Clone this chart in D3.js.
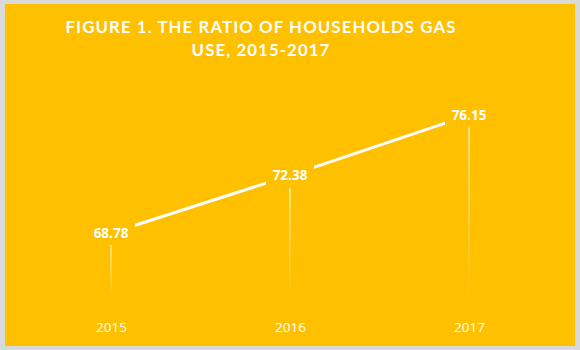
<!DOCTYPE html>
<html><head><meta charset="utf-8">
<script src="https://cdn.jsdelivr.net/npm/d3@7"></script>
<style>html,body{margin:0;padding:0;background:#fff;}</style>
</head><body>
<svg id="c" width="580" height="350"></svg>
<script>
const years = ["2015", "2016", "2017"];
const values = [68.78, 72.38, 76.15];
const titleLines = ["FIGURE 1. THE RATIO OF HOUSEHOLDS GAS", "USE, 2015-2017"];

const svg = d3.select("#c");
svg.append("rect").attr("x",0).attr("y",0).attr("width",580).attr("height",350).attr("fill","#D9D9D9");
svg.append("rect").attr("x",5).attr("y",4).attr("width",570).attr("height",342).attr("fill","#FFC000");

const defs = svg.append("defs");
const g = defs.append("linearGradient").attr("id","fade").attr("x1",0).attr("y1",0).attr("x2",0).attr("y2",1);
g.append("stop").attr("offset","0%").attr("stop-color","#fff").attr("stop-opacity",1);
g.append("stop").attr("offset","100%").attr("stop-color","#fff").attr("stop-opacity",0);

const x = d3.scalePoint().domain(years).range([111, 469]);
const y = d3.scaleLinear().domain([65, 80]).range([293.5, 53.5]);

const font = "'Open Sans', 'DejaVu Sans', sans-serif";
const titleFont = "Lato, 'Open Sans', sans-serif";

const tt = svg.append("g").selectAll("text").data(titleLines).join("text")
  .attr("x", 261).attr("y", (d,i)=>33 + i*23)
  .attr("text-anchor","middle").attr("fill","#fff")
  .attr("font-family", titleFont).attr("font-weight","bold").attr("font-size",16.8)
  .attr("letter-spacing","1.1px").text(d=>d);

// drop lines
const data = years.map((yr,i)=>({yr, v: values[i]}));
svg.append("g").selectAll("rect").data(data).join("rect")
  .attr("x", d=>x(d.yr)-0.5).attr("y", d=>y(d.v)+12)
  .attr("width",1).attr("height", d=>300 - (y(d.v)+12))
  .attr("fill","url(#fade)");

// line
svg.append("path").datum(data)
  .attr("d", d3.line().x(d=>x(d.yr)).y(d=>y(d.v)))
  .attr("fill","none").attr("stroke","#fff").attr("stroke-width",3);

// labels with background
const lab = svg.append("g").selectAll("g").data(data).join("g")
  .attr("transform", d=>`translate(${x(d.yr)},${y(d.v)})`);
lab.append("rect").attr("x",-24).attr("y",-10).attr("width",48).attr("height",20).attr("fill","#FFC000");
lab.append("text").attr("text-anchor","middle").attr("dy","0.35em")
  .attr("fill","#fff").attr("font-family",font).attr("font-weight","bold").attr("font-size",13.5)
  .text(d=>d.v.toFixed(2));

// x axis labels
const xAxis = d3.axisBottom(x).tickSize(0).tickPadding(0);
const ax = svg.append("g").attr("transform","translate(0,322)").call(xAxis);
ax.select(".domain").remove();
ax.selectAll("text").attr("fill","#fff").attr("font-family",font).attr("font-size",13.5);
</script>
</body></html>
